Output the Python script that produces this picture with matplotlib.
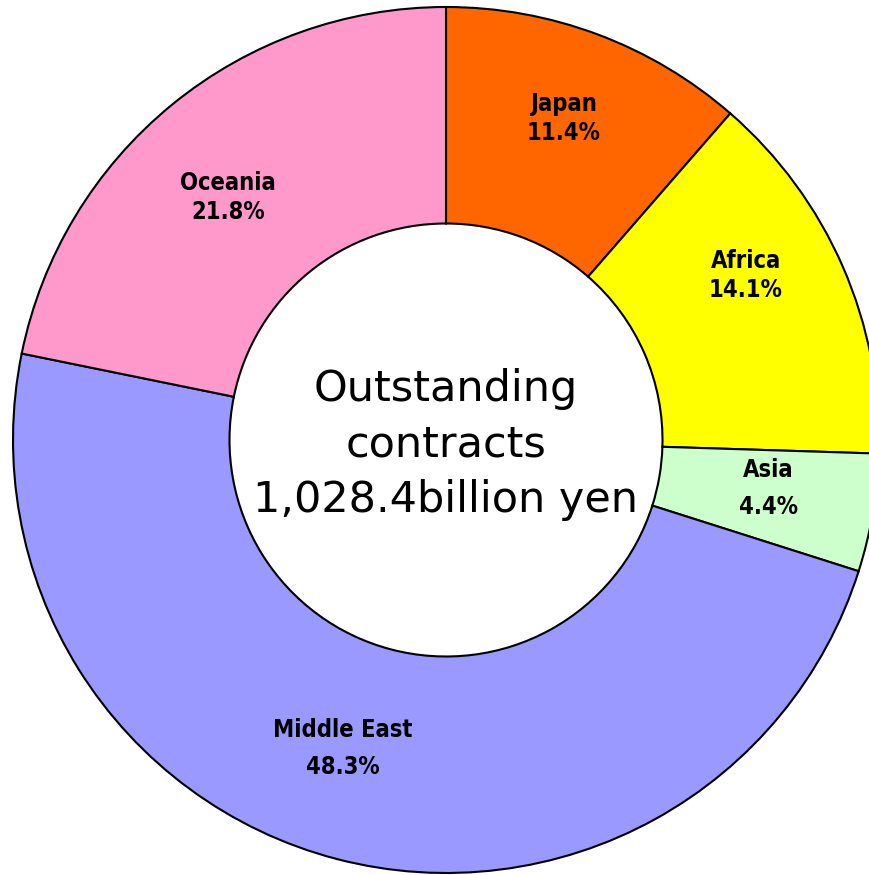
import matplotlib.pyplot as plt
import numpy as np

regions = ['Japan', 'Africa', 'Asia', 'Middle East', 'Oceania']
shares = [11.4, 14.1, 4.4, 48.3, 21.8]
colors = ['#FF6600', '#FFFF00', '#CCFFCC', '#9999FF', '#FF99CC']
center_text = 'Outstanding\ncontracts\n1,028.4billion yen'

# label tweaks (pixel nudges from the mid-angle spot, line gap)
nudge = [(1, -9), (-6, -31), (-6, -8), (-19, -14), (-7, 16)]
label_gap = [1.27, 1.27, 1.7, 1.7, 1.27]

W, H = 870, 875
cx, cy, R = 446, 440, 433  # pie centre and radius in pixels

fig = plt.figure(figsize=(W / 100, H / 100), dpi=100)
ax = fig.add_axes([0, 0, 1, 1])

wedges, _ = ax.pie(shares, colors=colors, startangle=90, counterclock=False,
                   radius=1.0, center=(0, 0), frame=True,
                   wedgeprops=dict(width=0.5, edgecolor='black', linewidth=1.5))
ax.set_xlim(-cx / R, (W - cx) / R)
ax.set_ylim(-(H - cy) / R, cy / R)
ax.set_aspect('auto')
ax.axis('off')

for w, name, val, (dx, dy), gap in zip(wedges, regions, shares, nudge, label_gap):
    ang = np.deg2rad((w.theta1 + w.theta2) / 2)
    r = 0.77
    ax.text(r * np.cos(ang) + dx / R, r * np.sin(ang) - dy / R,
            f'{name}\n{val}%', ha='center', va='center', fontsize=17,
            fontweight='bold', fontstretch='condensed', family='DejaVu Sans',
            linespacing=gap)

ax.text(0, -0.01, center_text, ha='center', va='center', fontsize=31,
        family='DejaVu Sans', linespacing=1.4)

fig.savefig('out.png', dpi=100)
